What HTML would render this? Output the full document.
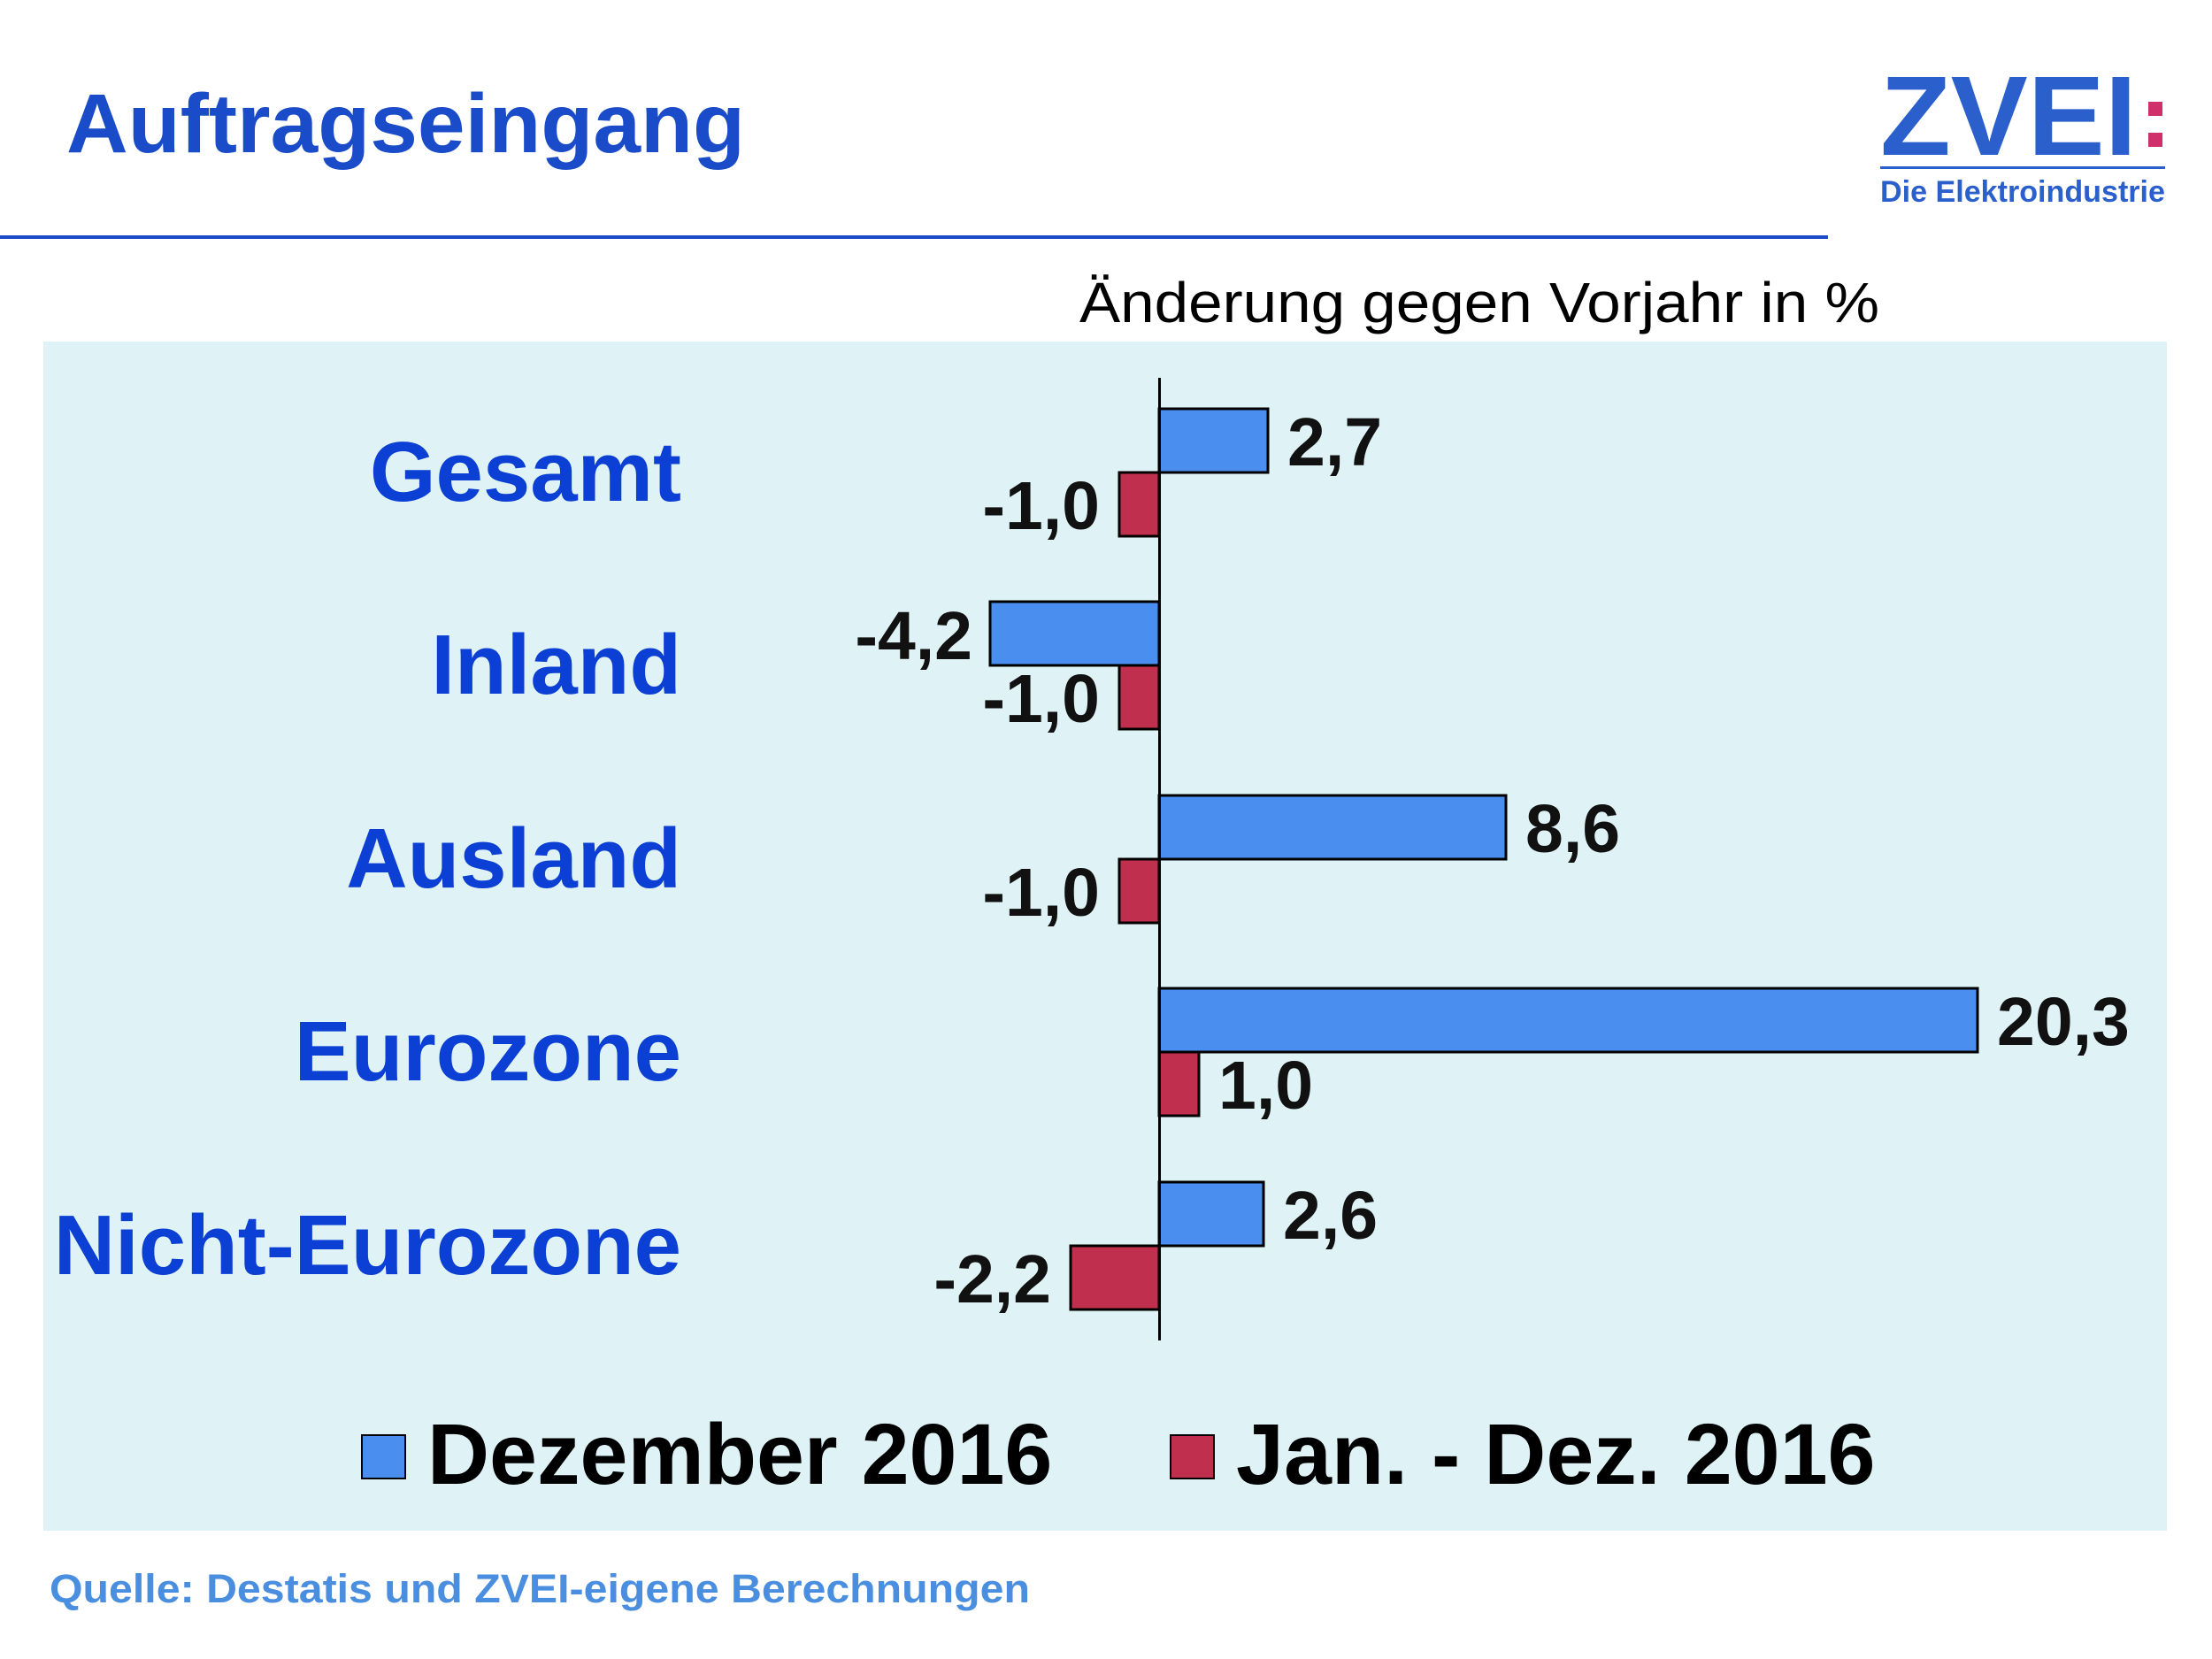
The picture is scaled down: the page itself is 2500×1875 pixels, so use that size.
<!DOCTYPE html>
<html><head><meta charset="utf-8"><style>
html,body{margin:0;padding:0;background:#fff}
svg{display:block}
text{font-family:"Liberation Sans",Arial,sans-serif}
</style></head><body>
<svg width="2500" height="1875" viewBox="0 0 2500 1875" xmlns="http://www.w3.org/2000/svg">
<rect width="2500" height="1875" fill="#fff"/>
<text x="75" y="172" font-size="95" font-weight="bold" fill="#1a4cc9" textLength="767" lengthAdjust="spacingAndGlyphs">Auftragseingang</text>
<rect x="0" y="266" width="2066" height="4" fill="#1a4cc9"/>
<text x="2125" y="175" font-size="128" font-weight="bold" fill="#2a5fcc" textLength="290" lengthAdjust="spacingAndGlyphs">ZVEI</text>
<rect x="2428" y="115" width="16" height="16" fill="#d0306a"/>
<rect x="2428" y="150" width="16" height="16" fill="#d0306a"/>
<rect x="2125" y="188" width="322" height="3" fill="#2a5fcc"/>
<text x="2125" y="228" font-size="34" font-weight="bold" fill="#2a5fcc" textLength="322" lengthAdjust="spacingAndGlyphs">Die Elektroindustrie</text>
<text x="1220" y="364" font-size="64" fill="#000" textLength="904" lengthAdjust="spacingAndGlyphs">Änderung gegen Vorjahr in %</text>
<rect x="49" y="386" width="2400" height="1344" fill="#dff3f6"/>
<g font-size="96" font-weight="bold" fill="#0c3fd4" text-anchor="end">
<text x="770" y="566">Gesamt</text>
<text x="770" y="784">Inland</text>
<text x="770" y="1003">Ausland</text>
<text x="770" y="1221">Eurozone</text>
<text x="770" y="1440">Nicht-Eurozone</text>
</g>
<g stroke="#000" stroke-width="3">
<rect x="1310" y="462" width="123" height="72" fill="#4a8ff0"/>
<rect x="1265" y="534" width="45" height="72" fill="#c02f4e"/>
<rect x="1119" y="680" width="191" height="72" fill="#4a8ff0"/>
<rect x="1265" y="752" width="45" height="72" fill="#c02f4e"/>
<rect x="1310" y="899" width="392" height="72" fill="#4a8ff0"/>
<rect x="1265" y="971" width="45" height="72" fill="#c02f4e"/>
<rect x="1310" y="1117" width="925" height="72" fill="#4a8ff0"/>
<rect x="1310" y="1189" width="45" height="72" fill="#c02f4e"/>
<rect x="1310" y="1336" width="118" height="72" fill="#4a8ff0"/>
<rect x="1210" y="1408" width="100" height="72" fill="#c02f4e"/>
</g>
<rect x="1309" y="427" width="3" height="1088" fill="#000"/>
<g font-size="77" font-weight="bold" fill="#111">
<text x="1455" y="526">2,7</text>
<text x="1243" y="598" text-anchor="end">-1,0</text>
<text x="1099" y="745" text-anchor="end">-4,2</text>
<text x="1243" y="816" text-anchor="end">-1,0</text>
<text x="1724" y="963">8,6</text>
<text x="1243" y="1035" text-anchor="end">-1,0</text>
<text x="2257" y="1181">20,3</text>
<text x="1377" y="1253">1,0</text>
<text x="1450" y="1400">2,6</text>
<text x="1188" y="1472" text-anchor="end">-2,2</text>
</g>
<rect x="409" y="1622" width="49" height="49" fill="#4a8ff0" stroke="#000" stroke-width="2"/>
<text x="483" y="1677" font-size="97" font-weight="bold" fill="#000">Dezember 2016</text>
<rect x="1323" y="1622" width="49" height="49" fill="#c02f4e" stroke="#000" stroke-width="2"/>
<text x="1397" y="1677" font-size="97" font-weight="bold" fill="#000">Jan. - Dez. 2016</text>
<text x="56" y="1811" font-size="45" font-weight="bold" fill="#4a8ee0" textLength="1108" lengthAdjust="spacingAndGlyphs">Quelle: Destatis und ZVEI-eigene Berechnungen</text>
</svg>
</body></html>
